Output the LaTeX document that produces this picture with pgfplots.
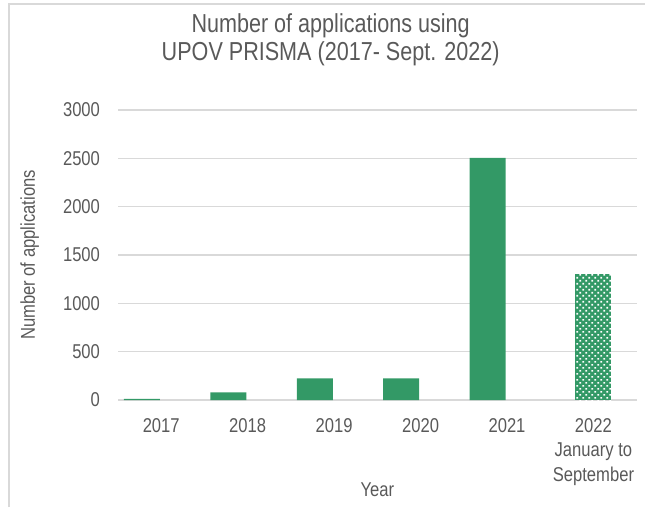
\documentclass[border=0pt]{standalone}
\usepackage{pgfplots}
\pgfplotsset{compat=1.18}
\usetikzlibrary{patterns.meta}
\usepackage{fontspec}
\setmainfont{Liberation Sans}[FakeStretch=0.83]
\definecolor{bargreen}{RGB}{51,153,102}
\definecolor{txtgrey}{RGB}{89,89,89}
\definecolor{gridgrey}{RGB}{217,217,217}

% white dots on the green bar for the partial year
\pgfdeclarepattern{
  name=greendots,
  type=uncolored,
  bottom left={\pgfpoint{-0.1pt}{-0.1pt}},
  top right={\pgfpoint{4.6pt}{4.6pt}},
  tile size={\pgfpoint{4.5pt}{4.5pt}},
  code={
    \pgfpathrectangle{\pgfpoint{0.2pt}{0.2pt}}{\pgfpoint{1.3pt}{1.3pt}}
    \pgfpathrectangle{\pgfpoint{2.45pt}{2.45pt}}{\pgfpoint{1.3pt}{1.3pt}}
    \pgfusepath{fill}
  }
}

\begin{document}
\begin{tikzpicture}[x=0.75pt,y=0.75pt]
\useasboundingbox (0,0) rectangle (645,507);
\draw[gridgrey, line width=1.1pt] (9,0) -- (9,503) -- (645,503);
\begin{axis}[
  at={(118pt*0.75,107pt*0.75)}, anchor=south west,
  width=389pt, height=217.5pt, scale only axis,
  xmin=-0.5, xmax=5.5, ymin=0, ymax=3000,
  xtick={0,1,2,3,4,5},
  xticklabels={2017,2018,2019,2020,2021,{2022\\January to\\September}},
  ytick={0,500,1000,1500,2000,2500,3000},
  axis line style={draw=none},
  major tick length=0pt,
  ymajorgrids, grid style={gridgrey, line width=0.9pt},
  tick label style={font=\fontsize{15}{18.7}\selectfont, text=txtgrey},
  xticklabel style={align=center, anchor=north, yshift=-10pt},
  yticklabel style={xshift=-10pt},
  /pgf/number format/assume math mode=true,
  /pgf/number format/1000 sep={},
  xlabel={Year}, ylabel={Number of applications},
  label style={font=\fontsize{15}{17}\selectfont, text=txtgrey},
  xlabel style={at={(axis description cs:0.5,0)}, anchor=center, yshift=-67.5pt},
  ylabel style={at={(axis description cs:-0.17,0.5)}, anchor=center},
  title={Number of applications using\\UPOV PRISMA (2017- Sept. 2022)},
  title style={font=\fontsize{19.5}{21}\selectfont, text=txtgrey, align=center,
    at={(axis description cs:0.41,1)}, anchor=south, yshift=23.5pt},
  ybar, bar width=27pt, clip=false,
]
\addplot[fill=bargreen, draw=none] coordinates {
  (0,12) (1,80) (2,225) (3,225) (4,2505)
};
\addplot[fill=bargreen, draw=none, bar shift=0pt,
  postaction={pattern={greendots}, pattern color=white}] coordinates {
  (5,1300)
};
\end{axis}
\end{tikzpicture}
\end{document}
